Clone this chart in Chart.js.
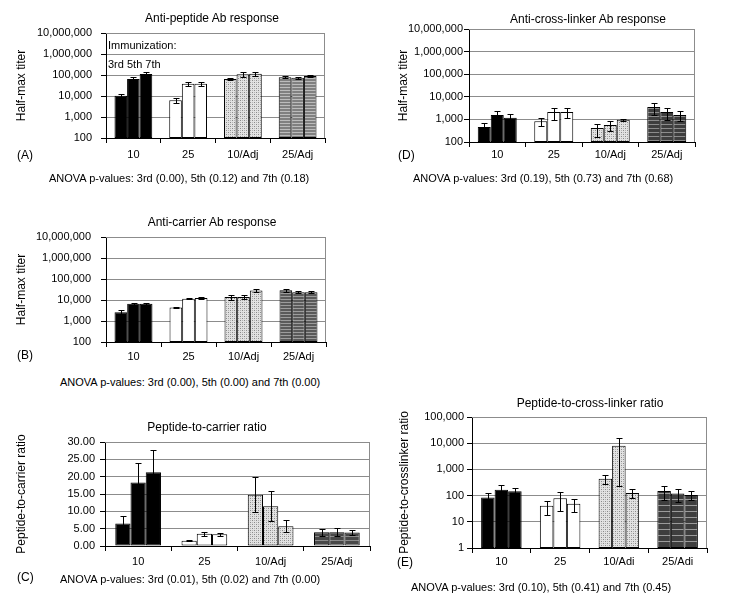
<!DOCTYPE html>
<html>
<head>
<meta charset="utf-8">
<script src="https://cdn.jsdelivr.net/npm/chart.js@4.4.0/dist/chart.umd.min.js"></script>
<style>
  body { margin: 0; background: #fff; width: 750px; height: 602px; position: relative; overflow: hidden;
         font-family: Arial, "Liberation Sans", sans-serif; color: #000; }
  .box { position: absolute; }
  .txt { position: absolute; white-space: nowrap; font-size: 11px; line-height: 1; transform: translateY(-50%); }
  .ttl { position: absolute; white-space: nowrap; font-size: 12px; line-height: 1; transform: translate(-50%, -50%); }
</style>
</head>
<body>
<div class="box" style="left:0px;top:0px;width:335px;height:168px"><canvas id="chartA"></canvas></div>
<div class="box" style="left:385px;top:0px;width:320px;height:168px"><canvas id="chartD"></canvas></div>
<div class="box" style="left:0px;top:200px;width:335px;height:168px"><canvas id="chartB"></canvas></div>
<div class="box" style="left:0px;top:400px;width:375px;height:175px"><canvas id="chartC"></canvas></div>
<div class="box" style="left:385px;top:385px;width:330px;height:180px"><canvas id="chartE"></canvas></div>

<div class="ttl" style="left:212px;top:18px">Anti-peptide Ab response</div>
<div class="ttl" style="left:588px;top:19px">Anti-cross-linker Ab response</div>
<div class="ttl" style="left:212px;top:222px">Anti-carrier Ab response</div>
<div class="ttl" style="left:207px;top:427px">Peptide-to-carrier ratio</div>
<div class="ttl" style="left:590px;top:403px">Peptide-to-cross-linker ratio</div>

<div class="txt" style="left:108px;top:45px">Immunization:</div>
<div class="txt" style="left:108px;top:64px">3rd 5th 7th</div>

<div class="txt" style="left:17px;top:155px;font-size:12px">(A)</div>
<div class="txt" style="left:398px;top:155px;font-size:12px">(D)</div>
<div class="txt" style="left:17px;top:355px;font-size:12px">(B)</div>
<div class="txt" style="left:17px;top:577px;font-size:12px">(C)</div>
<div class="txt" style="left:397px;top:562px;font-size:12px">(E)</div>

<div class="txt" style="left:49px;top:178px">ANOVA p-values: 3rd (0.00), 5th (0.12) and 7th (0.18)</div>
<div class="txt" style="left:413px;top:178px">ANOVA p-values: 3rd (0.19), 5th (0.73) and 7th (0.68)</div>
<div class="txt" style="left:60px;top:382px">ANOVA p-values: 3rd (0.00), 5th (0.00) and 7th (0.00)</div>
<div class="txt" style="left:60px;top:579px">ANOVA p-values: 3rd (0.01), 5th (0.02) and 7th (0.00)</div>
<div class="txt" style="left:411px;top:587px">ANOVA p-values: 3rd (0.10), 5th (0.41) and 7th (0.45)</div>

<script>
const categories = ['10', '25', '10/Adj', '25/Adj'];
const timepoints = ['3rd', '5th', '7th'];

const titerTicks = [100, 1000, 10000, 100000, 1000000, 10000000];
const ratioTicks = [0, 5, 10, 15, 20, 25, 30];
const linkerRatioTicks = [1, 10, 100, 1000, 10000, 100000];

// (A) anti-peptide titer
const peptide3rd = [10300, 6300, 65000, 78000];
const peptide3rdErr = [1500, 1400, 5000, 9000];
const peptide5th = [65000, 38500, 108000, 74000];
const peptide5thErr = [18000, 8500, 25000, 9000];
const peptide7th = [112000, 38500, 115000, 89000];
const peptide7thErr = [30000, 7000, 28000, 8000];

// (B) anti-carrier titer
const carrier3rd = [2600, 4400, 14000, 29000];
const carrier3rdErr = [900, 300, 4000, 4500];
const carrier5th = [6600, 11500, 14000, 23500];
const carrier5thErr = [900, 600, 2500, 2500];
const carrier7th = [6600, 12500, 28000, 23500];
const carrier7thErr = [700, 1200, 5000, 2000];

// (C) peptide-to-carrier ratio
const pepCarrier3rd = [6.5, 1.55, 14.8, 4.0];
const pepCarrier3rdErr = [2.1, 0.15, 5.1, 1.0];
const pepCarrier5th = [18.3, 3.5, 11.5, 4.0];
const pepCarrier5thErr = [5.6, 0.5, 4.3, 1.1];
const pepCarrier7th = [21.3, 3.4, 5.7, 3.9];
const pepCarrier7thErr = [6.4, 0.4, 1.8, 0.6];

// (D) anti-cross-linker titer
const linker3rd = [460, 820, 415, 3500];
const linker3rdErr = [250, 300, 240, 1900];
const linker5th = [1550, 2100, 560, 2100];
const linker5thErr = [700, 1200, 260, 1200];
const linker7th = [1180, 2100, 960, 1550];
const linker7thErr = [600, 1000, 100, 700];

// (E) peptide-to-cross-linker ratio
const pepLinker3rd = [84, 41, 440, 151];
const pepLinker3rdErr = [38, 23, 165, 83];
const pepLinker5th = [166, 79, 8000, 119];
const pepLinker5thErr = [85, 53, 7760, 62];
const pepLinker7th = [146, 49, 127, 106];
const pepLinker7thErr = [57, 25, 48, 38];

Chart.defaults.font.family = 'Arial, "Liberation Sans", sans-serif';
Chart.defaults.font.size = 11;
Chart.defaults.color = '#000';

function dotFill() {
  let c = document.createElement('canvas');
  c.width = 4; c.height = 4;
  let g = c.getContext('2d');
  g.fillStyle = '#e2e2e2'; g.fillRect(0, 0, 4, 4);
  g.fillStyle = '#8a8a8a';
  g.fillRect(0, 0, 1, 1); g.fillRect(2, 2, 1, 1);
  g.fillStyle = '#b4b4b4';
  g.fillRect(2, 0, 1, 1); g.fillRect(0, 2, 1, 1);
  return g.createPattern(c, 'repeat');
}

function stripeFill(base, line, period) {
  let c = document.createElement('canvas');
  c.width = 4; c.height = period;
  let g = c.getContext('2d');
  g.fillStyle = base; g.fillRect(0, 0, 4, period);
  g.fillStyle = line; g.fillRect(0, 0, 4, 1);
  return g.createPattern(c, 'repeat');
}

// grey top/right edge of the plot
const frame = {
  id: 'frame',
  beforeDatasetsDraw(chart) {
    const {ctx, chartArea: a} = chart;
    ctx.save();
    ctx.strokeStyle = '#8c8c8c';
    ctx.lineWidth = 1;
    ctx.beginPath();
    ctx.moveTo(a.left, Math.round(a.top) + 0.5);
    ctx.lineTo(Math.round(a.right) - 0.5, Math.round(a.top) + 0.5);
    ctx.lineTo(Math.round(a.right) - 0.5, a.bottom);
    ctx.stroke();
    ctx.restore();
  }
};

const errorBars = {
  id: 'errorBars',
  afterDatasetsDraw(chart) {
    const ctx = chart.ctx, y = chart.scales.y;
    ctx.save();
    ctx.strokeStyle = '#000';
    ctx.lineWidth = 1;
    chart.data.datasets.forEach((ds, di) => {
      chart.getDatasetMeta(di).data.forEach((bar, i) => {
        let v = ds.data[i], e = ds.errors[i];
        let lo = Math.max(v - e, y.min), hi = v + e;
        let x = Math.round(bar.x) + 0.5;
        let y1 = Math.round(y.getPixelForValue(hi)) + 0.5;
        let y2 = Math.round(y.getPixelForValue(lo)) + 0.5;
        ctx.beginPath();
        ctx.moveTo(x, y1); ctx.lineTo(x, y2);
        ctx.moveTo(x - 3, y1); ctx.lineTo(x + 3, y1);
        ctx.moveTo(x - 3, y2); ctx.lineTo(x + 3, y2);
        ctx.stroke();
      });
    });
    ctx.restore();
  }
};

function makePanel(id, geo, values, errors, yCfg, fills) {
  const box = geo.box, plot = geo.plot;
  let datasets = timepoints.map((t, k) => ({
    label: t,
    data: values[k],
    errors: errors[k],
    backgroundColor: fills,
    borderColor: '#000',
    borderWidth: 1,
    borderSkipped: false,
    categoryPercentage: 0.69,
    barPercentage: 1
  }));
  let yScale = {
    type: yCfg.type,
    min: yCfg.ticks[0],
    max: yCfg.ticks[yCfg.ticks.length - 1],
    afterBuildTicks: s => { s.ticks = yCfg.ticks.map(v => ({value: v})); },
    afterFit: s => { s.width = plot.l - box.x; },
    ticks: { callback: yCfg.format, padding: geo.yPad, font: {size: 11} },
    grid: { color: '#8c8c8c', tickColor: '#000', tickLength: 5 },
    border: { color: '#000' },
    title: { display: true, text: yCfg.title, font: {size: 12},
             padding: {top: geo.yTitleX - box.x - 7.2, bottom: 0} }
  };
  return new Chart(document.getElementById(id), {
    type: 'bar',
    data: { labels: categories, datasets: datasets },
    options: {
      responsive: true,
      maintainAspectRatio: false,
      animation: false,
      layout: { padding: { left: 0, top: plot.t - box.y, right: box.x + box.w - plot.r, bottom: 0 } },
      plugins: { legend: { display: false }, tooltip: { enabled: false } },
      scales: {
        x: {
          grid: { drawOnChartArea: false, color: '#000', tickLength: 5, offset: true },
          border: { color: '#000' },
          ticks: { padding: geo.catY - plot.b - 5 - 6.6, font: {size: 11} },
          afterFit: s => { s.height = box.y + box.h - plot.b; }
        },
        y: yScale
      }
    },
    plugins: [frame, errorBars]
  });
}

const commas = v => Number(v).toLocaleString('en-US');
const twoDp = v => Number(v).toFixed(2);
const dots = dotFill();

makePanel('chartA',
  { box: {x: 0, y: 0, w: 335, h: 168}, plot: {l: 106, r: 325, t: 33, b: 138}, catY: 155, yTitleX: 22, yPad: 9 },
  [peptide3rd, peptide5th, peptide7th], [peptide3rdErr, peptide5thErr, peptide7thErr],
  { type: 'logarithmic', ticks: titerTicks, format: commas, title: 'Half-max titer' },
  ['#000', '#fff', dots, stripeFill('#808080', '#bcbcbc', 3)]);

makePanel('chartD',
  { box: {x: 385, y: 0, w: 320, h: 168}, plot: {l: 469, r: 695, t: 29, b: 142}, catY: 155, yTitleX: 404, yPad: 1 },
  [linker3rd, linker5th, linker7th], [linker3rdErr, linker5thErr, linker7thErr],
  { type: 'logarithmic', ticks: titerTicks, format: commas, title: 'Half-max titer' },
  ['#000', '#fff', dots, stripeFill('#3e3e3e', '#8c8c8c', 4)]);

makePanel('chartB',
  { box: {x: 0, y: 200, w: 335, h: 168}, plot: {l: 106, r: 326, t: 237, b: 342}, catY: 357, yTitleX: 22, yPad: 10 },
  [carrier3rd, carrier5th, carrier7th], [carrier3rdErr, carrier5thErr, carrier7thErr],
  { type: 'logarithmic', ticks: titerTicks, format: commas, title: 'Half-max titer' },
  ['#000', '#fff', dots, stripeFill('#5a5a5a', '#9c9c9c', 3)]);

makePanel('chartC',
  { box: {x: 0, y: 400, w: 375, h: 175}, plot: {l: 105, r: 370, t: 442, b: 546}, catY: 562, yTitleX: 22, yPad: 5 },
  [pepCarrier3rd, pepCarrier5th, pepCarrier7th], [pepCarrier3rdErr, pepCarrier5thErr, pepCarrier7thErr],
  { type: 'linear', ticks: ratioTicks, format: twoDp, title: 'Peptide-to-carrier ratio' },
  ['#000', '#fff', dots, stripeFill('#484848', '#8c8c8c', 4)]);

makePanel('chartE',
  { box: {x: 385, y: 385, w: 330, h: 180}, plot: {l: 472, r: 707, t: 417, b: 548}, catY: 562, yTitleX: 405, yPad: 3 },
  [pepLinker3rd, pepLinker5th, pepLinker7th], [pepLinker3rdErr, pepLinker5thErr, pepLinker7thErr],
  { type: 'logarithmic', ticks: linkerRatioTicks, format: commas, title: 'Peptide-to-crosslinker ratio' },
  ['#000', '#fff', dots, stripeFill('#3e3e3e', '#9a9a9a', 6)]);
</script>
</body>
</html>
